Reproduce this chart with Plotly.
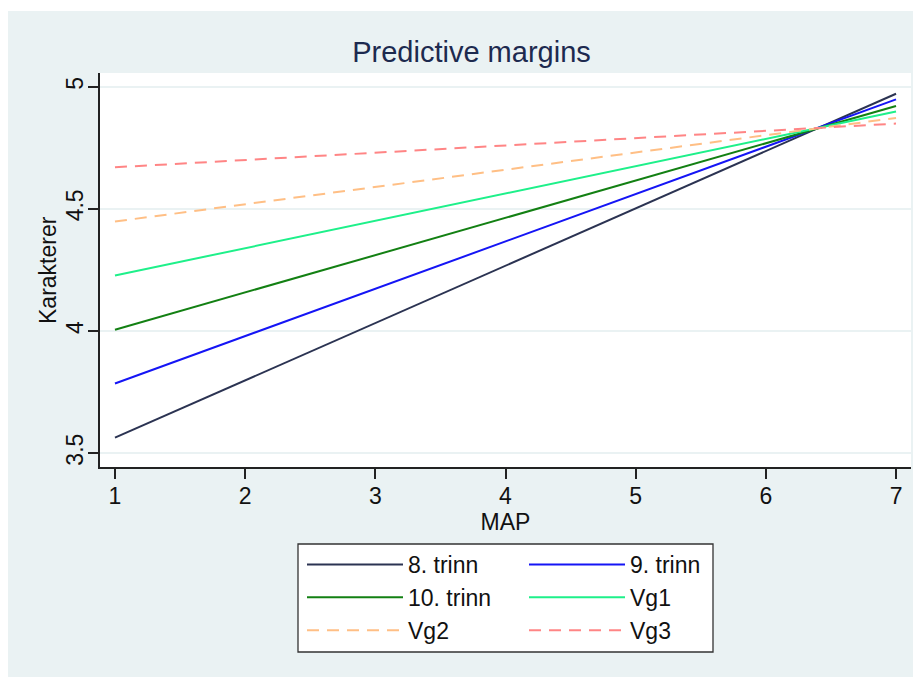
import plotly.graph_objects as go

# ---- data ----
map_x = [1, 7]
series_names = ["8. trinn", "9. trinn", "10. trinn", "Vg1", "Vg2", "Vg3"]
trinn8 = [3.563, 4.971]
trinn9 = [3.785, 4.948]
trinn10 = [4.005, 4.921]
vg1 = [4.227, 4.898]
vg2 = [4.448, 4.872]
vg3 = [4.670, 4.849]
x_ticks = [1, 2, 3, 4, 5, 6, 7]
y_ticks = [3.5, 4, 4.5, 5]
y_tick_labels = ["3.5", "4", "4.5", "5"]
x_title = "MAP"
y_title = "Karakterer"

values = [trinn8, trinn9, trinn10, vg1, vg2, vg3]
colors = ["#2b3352", "#1515f5", "#138013", "#1ef08a", "#ffbf85", "#ff8585"]
dashes = ["solid", "solid", "solid", "solid", "12px,8px", "12px,8px"]
legend_ids = ["legend", "legend2", "legend", "legend2", "legend", "legend2"]

W, H = 921, 677
OFF = 8  # page body margin
L, T = 100 - OFF, 73 - OFF
R = W - (911 - OFF)
B = H - (467 - OFF)
FONT = "Arial, Liberation Sans, sans-serif"
BG = "#eaf2f3"

fig = go.Figure()
for name, vals, col, dash, lg in zip(series_names, values, colors, dashes, legend_ids):
    fig.add_trace(go.Scatter(
        x=map_x, y=vals, mode="lines", name=name,
        line=dict(color=col, width=2, dash=dash),
        legend=lg,
    ))

pw = W - L - R
ph = H - T - B


def px2paper_x(sx):
    return (sx - OFF - L) / pw


def px2paper_y(sy):
    return (H - B - (sy - OFF)) / ph


shapes = [
    # thin white strip at the very top of the graph region
    dict(type="rect", xref="paper", yref="paper",
         x0=px2paper_x(0), x1=px2paper_x(W + 20), y0=px2paper_y(11), y1=px2paper_y(0),
         fillcolor="white", line=dict(width=0), layer="below"),
    # legend frame
    dict(type="rect", xref="paper", yref="paper",
         x0=px2paper_x(298), x1=px2paper_x(713), y0=px2paper_y(652), y1=px2paper_y(544),
         fillcolor="white", line=dict(color="#333333", width=1.3), layer="below"),
]

annotations = [
    # y-axis title (placed as rotated text left of the tick labels)
    dict(text=y_title, xref="paper", yref="paper", x=px2paper_x(48), y=0.5,
         xanchor="center", yanchor="middle", textangle=-90, showarrow=False,
         font=dict(family=FONT, size=23, color="#111111")),
]

leg_common = dict(
    font=dict(family=FONT, size=23, color="#111111"),
    bgcolor="rgba(0,0,0,0)", borderwidth=0,
    xref="container", yref="container", yanchor="top", xanchor="left",
    itemwidth=96, tracegroupgap=0,
)

fig.update_layout(
    width=W, height=H,
    margin=dict(l=L, r=R, t=T, b=B, pad=0, autoexpand=False),
    paper_bgcolor=BG,
    plot_bgcolor="white",
    font=dict(family=FONT, size=23, color="#111111"),
    title=dict(text="Predictive margins", font=dict(family=FONT, size=29, color="#1d2a4f"),
               xref="container", yref="container", x=(471.5 - OFF) / W, xanchor="center",
               y=1 - (52 - OFF) / H, yanchor="middle"),
    showlegend=True,
    legend=dict(x=294 / W, y=1 - 535 / H, **leg_common),
    legend2=dict(x=516 / W, y=1 - 535 / H, **leg_common),
    shapes=shapes,
    annotations=annotations,
    xaxis=dict(
        range=[0.885, 7.115], tickvals=x_ticks, ticks="outside", ticklen=10, tickwidth=1.5,
        tickcolor="#222222", showline=True, linecolor="#222222", linewidth=1.5,
        showgrid=False, zeroline=False, ticklabelstandoff=-2,
        tickfont=dict(family=FONT, size=23, color="#111111"),
        title=dict(text=x_title, font=dict(family=FONT, size=23, color="#111111"), standoff=0),
    ),
    yaxis=dict(
        range=[3.443, 5.056], tickvals=y_ticks, ticktext=y_tick_labels, ticks="outside",
        ticklen=10, tickwidth=1.5, tickcolor="#222222", showline=True, linecolor="#222222",
        linewidth=1.5, showgrid=True, gridcolor=BG, gridwidth=2, zeroline=False,
        tickangle=-90, ticklabelstandoff=-4,
        tickfont=dict(family=FONT, size=23, color="#111111"),
    ),
)

fig.write_html("out.html")
